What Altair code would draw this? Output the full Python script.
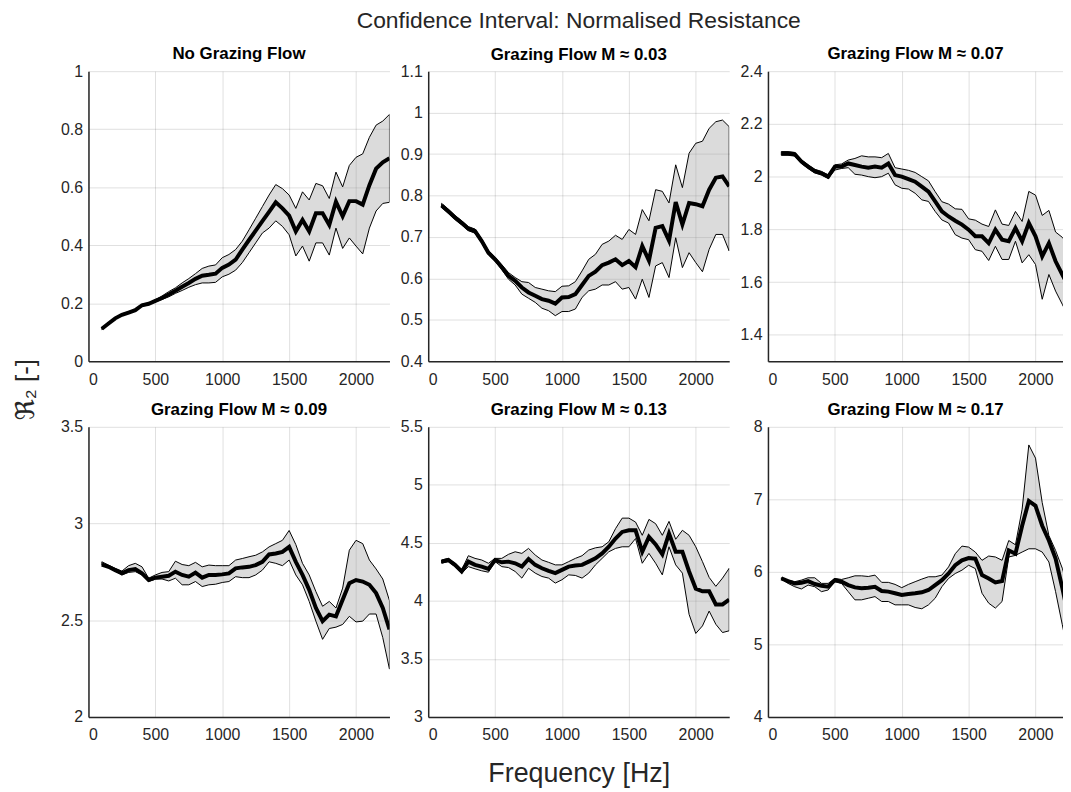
import altair as alt
import pandas as pd

FREQ = list(range(100, 2251, 50))

TITLES = [
    "No Grazing Flow",
    "Grazing Flow M \u2248 0.03",
    "Grazing Flow M \u2248 0.07",
    "Grazing Flow M \u2248 0.09",
    "Grazing Flow M \u2248 0.13",
    "Grazing Flow M \u2248 0.17",
]
SUPTITLE = "Confidence Interval: Normalised Resistance"
X_TITLE = "Frequency [Hz]"
Y_TITLE = "\u211c\u2082 [-]"

MEAN_1 = [0.112, 0.13, 0.148, 0.16, 0.168, 0.176, 0.193, 0.198, 0.208, 0.218, 0.23, 0.243, 0.257, 0.27, 0.284, 0.295, 0.298, 0.302, 0.322, 0.333, 0.35, 0.385, 0.418, 0.45, 0.483, 0.515, 0.548, 0.527, 0.502, 0.448, 0.487, 0.448, 0.51, 0.51, 0.47, 0.55, 0.5, 0.552, 0.552, 0.54, 0.607, 0.664, 0.686, 0.70]
UPPER_1 = [0.115, 0.133, 0.151, 0.163, 0.171, 0.179, 0.196, 0.201, 0.212, 0.225, 0.24, 0.253, 0.27, 0.285, 0.302, 0.32, 0.328, 0.332, 0.357, 0.368, 0.385, 0.414, 0.453, 0.493, 0.533, 0.573, 0.609, 0.595, 0.573, 0.527, 0.584, 0.556, 0.613, 0.605, 0.561, 0.652, 0.601, 0.675, 0.703, 0.715, 0.772, 0.814, 0.828, 0.851]
LOWER_1 = [0.109, 0.127, 0.145, 0.157, 0.165, 0.173, 0.19, 0.195, 0.205, 0.213, 0.222, 0.234, 0.244, 0.255, 0.264, 0.27, 0.27, 0.272, 0.291, 0.30, 0.314, 0.34, 0.374, 0.408, 0.442, 0.459, 0.484, 0.465, 0.436, 0.363, 0.397, 0.345, 0.408, 0.408, 0.366, 0.459, 0.389, 0.425, 0.397, 0.37, 0.459, 0.518, 0.544, 0.548]

MEAN_2 = [0.776, 0.762, 0.747, 0.734, 0.72, 0.714, 0.69, 0.662, 0.646, 0.627, 0.606, 0.594, 0.578, 0.566, 0.558, 0.55, 0.546, 0.539, 0.554, 0.555, 0.562, 0.584, 0.606, 0.616, 0.632, 0.638, 0.646, 0.632, 0.642, 0.627, 0.678, 0.643, 0.722, 0.726, 0.691, 0.784, 0.73, 0.782, 0.779, 0.774, 0.814, 0.843, 0.846, 0.822]
UPPER_2 = [0.781, 0.767, 0.752, 0.739, 0.725, 0.719, 0.695, 0.667, 0.651, 0.633, 0.614, 0.602, 0.592, 0.59, 0.578, 0.574, 0.57, 0.568, 0.581, 0.582, 0.592, 0.618, 0.646, 0.658, 0.682, 0.69, 0.704, 0.694, 0.718, 0.706, 0.766, 0.739, 0.814, 0.81, 0.782, 0.874, 0.819, 0.902, 0.926, 0.931, 0.962, 0.978, 0.982, 0.966]
LOWER_2 = [0.771, 0.757, 0.742, 0.729, 0.715, 0.709, 0.685, 0.657, 0.641, 0.621, 0.598, 0.584, 0.562, 0.552, 0.542, 0.528, 0.522, 0.51, 0.52, 0.52, 0.526, 0.554, 0.57, 0.574, 0.584, 0.584, 0.592, 0.574, 0.578, 0.55, 0.598, 0.554, 0.63, 0.638, 0.602, 0.698, 0.626, 0.662, 0.638, 0.616, 0.67, 0.706, 0.706, 0.666]

MEAN_3 = [2.088, 2.088, 2.085, 2.057, 2.038, 2.021, 2.013, 2.0, 2.038, 2.038, 2.05, 2.044, 2.038, 2.034, 2.038, 2.034, 2.05, 2.006, 2.0, 1.991, 1.981, 1.962, 1.943, 1.906, 1.868, 1.849, 1.833, 1.818, 1.799, 1.774, 1.774, 1.748, 1.799, 1.761, 1.755, 1.805, 1.755, 1.824, 1.774, 1.698, 1.748, 1.679, 1.629, 1.58]
UPPER_3 = [2.095, 2.095, 2.092, 2.064, 2.045, 2.028, 2.02, 2.007, 2.045, 2.048, 2.063, 2.069, 2.079, 2.075, 2.075, 2.072, 2.088, 2.034, 2.029, 2.024, 2.016, 2.0, 1.984, 1.943, 1.905, 1.896, 1.878, 1.876, 1.84, 1.835, 1.82, 1.811, 1.874, 1.82, 1.815, 1.868, 1.83, 1.944, 1.93, 1.853, 1.872, 1.79, 1.77, 1.74]
LOWER_3 = [2.081, 2.081, 2.078, 2.05, 2.031, 2.014, 2.006, 1.993, 2.025, 2.031, 2.034, 2.009, 2.006, 2.0, 1.996, 2.0, 2.013, 1.969, 1.956, 1.953, 1.937, 1.912, 1.906, 1.868, 1.836, 1.824, 1.78, 1.767, 1.761, 1.723, 1.717, 1.682, 1.736, 1.686, 1.686, 1.755, 1.673, 1.704, 1.667, 1.535, 1.629, 1.566, 1.516, 1.465]

MEAN_4 = [2.788, 2.776, 2.759, 2.742, 2.759, 2.764, 2.742, 2.708, 2.72, 2.725, 2.73, 2.751, 2.734, 2.725, 2.746, 2.72, 2.734, 2.734, 2.737, 2.742, 2.768, 2.773, 2.776, 2.785, 2.802, 2.84, 2.845, 2.853, 2.879, 2.802, 2.734, 2.657, 2.563, 2.495, 2.529, 2.52, 2.606, 2.691, 2.708, 2.7, 2.683, 2.64, 2.563, 2.452]
UPPER_4 = [2.802, 2.785, 2.768, 2.754, 2.782, 2.794, 2.776, 2.717, 2.734, 2.747, 2.751, 2.805, 2.788, 2.782, 2.799, 2.776, 2.785, 2.782, 2.782, 2.782, 2.811, 2.819, 2.828, 2.836, 2.853, 2.879, 2.896, 2.913, 2.964, 2.891, 2.794, 2.734, 2.648, 2.572, 2.597, 2.563, 2.666, 2.862, 2.913, 2.896, 2.811, 2.765, 2.713, 2.601]
LOWER_4 = [2.785, 2.771, 2.754, 2.734, 2.747, 2.751, 2.734, 2.7, 2.712, 2.713, 2.703, 2.717, 2.683, 2.683, 2.7, 2.674, 2.683, 2.686, 2.695, 2.7, 2.725, 2.72, 2.72, 2.734, 2.759, 2.802, 2.794, 2.782, 2.811, 2.734, 2.683, 2.597, 2.495, 2.401, 2.457, 2.464, 2.478, 2.52, 2.491, 2.495, 2.532, 2.532, 2.41, 2.247]

MEAN_5 = [4.338, 4.352, 4.31, 4.253, 4.338, 4.31, 4.295, 4.276, 4.352, 4.332, 4.338, 4.324, 4.295, 4.361, 4.31, 4.281, 4.259, 4.239, 4.267, 4.295, 4.304, 4.31, 4.338, 4.366, 4.409, 4.466, 4.537, 4.594, 4.608, 4.608, 4.423, 4.551, 4.486, 4.401, 4.58, 4.423, 4.423, 4.253, 4.105, 4.082, 4.082, 3.969, 3.969, 4.011]
UPPER_5 = [4.352, 4.366, 4.324, 4.267, 4.389, 4.366, 4.352, 4.324, 4.366, 4.366, 4.401, 4.423, 4.409, 4.452, 4.395, 4.352, 4.332, 4.31, 4.31, 4.338, 4.366, 4.389, 4.438, 4.457, 4.466, 4.509, 4.622, 4.713, 4.713, 4.679, 4.565, 4.702, 4.665, 4.565, 4.685, 4.531, 4.608, 4.565, 4.466, 4.338, 4.202, 4.125, 4.196, 4.281]
LOWER_5 = [4.324, 4.338, 4.295, 4.239, 4.295, 4.276, 4.259, 4.247, 4.338, 4.295, 4.287, 4.253, 4.196, 4.281, 4.239, 4.21, 4.196, 4.153, 4.182, 4.224, 4.219, 4.196, 4.239, 4.31, 4.366, 4.423, 4.452, 4.466, 4.466, 4.537, 4.324, 4.409, 4.324, 4.224, 4.466, 4.31, 4.239, 3.884, 3.719, 3.784, 3.912, 3.798, 3.727, 3.742]

MEAN_6 = [5.909, 5.873, 5.841, 5.85, 5.873, 5.832, 5.809, 5.795, 5.886, 5.864, 5.818, 5.786, 5.773, 5.782, 5.795, 5.736, 5.727, 5.705, 5.682, 5.695, 5.705, 5.718, 5.75, 5.818, 5.886, 5.977, 6.091, 6.159, 6.191, 6.182, 5.955, 5.909, 5.855, 5.873, 6.295, 6.25, 6.636, 6.977, 6.91, 6.636, 6.432, 6.182, 5.78, 5.35]
UPPER_6 = [5.918, 5.886, 5.864, 5.886, 5.918, 5.918, 5.841, 5.841, 5.909, 5.895, 5.918, 5.945, 5.945, 5.936, 5.955, 5.855, 5.855, 5.827, 5.782, 5.827, 5.864, 5.9, 5.932, 5.932, 5.955, 6.068, 6.25, 6.355, 6.341, 6.273, 6.159, 6.218, 6.205, 6.159, 6.432, 6.373, 6.864, 7.75, 7.568, 6.955, 6.5, 6.295, 6.05, 5.75]
LOWER_6 = [5.9, 5.841, 5.795, 5.764, 5.818, 5.795, 5.727, 5.75, 5.864, 5.841, 5.727, 5.614, 5.614, 5.636, 5.659, 5.591, 5.591, 5.545, 5.545, 5.545, 5.509, 5.491, 5.545, 5.636, 5.795, 5.909, 5.977, 6.023, 6.091, 6.045, 5.705, 5.568, 5.5, 5.591, 6.205, 6.227, 6.273, 6.318, 6.318, 6.273, 6.136, 5.727, 5.273, 4.82]

MEANS = [MEAN_1, MEAN_2, MEAN_3, MEAN_4, MEAN_5, MEAN_6]
UPPERS = [UPPER_1, UPPER_2, UPPER_3, UPPER_4, UPPER_5, UPPER_6]
LOWERS = [LOWER_1, LOWER_2, LOWER_3, LOWER_4, LOWER_5, LOWER_6]

Y_DOMAINS = [[0, 1], [0.4, 1.1], [1.3, 2.4], [2, 3.5], [3, 5.5], [4, 8]]
Y_TICKS = [
    [0, 0.2, 0.4, 0.6, 0.8, 1],
    [0.4, 0.5, 0.6, 0.7, 0.8, 0.9, 1.0, 1.1],
    [1.4, 1.6, 1.8, 2.0, 2.2, 2.4],
    [2, 2.5, 3, 3.5],
    [3, 3.5, 4, 4.5, 5, 5.5],
    [4, 5, 6, 7, 8],
]
X_TICKS = [0, 500, 1000, 1500, 2000]

FONT = "Liberation Sans, Arial, DejaVu Sans, sans-serif"
INK = "#262626"
PX_PER_HZ = 303 / 2250
PANEL_H = 292
ROW_GAP = 66


def panel(i):
    col = i % 3
    width = 303 if col < 2 else 297
    xmax = 2250 if col < 2 else width / PX_PER_HZ
    df = pd.DataFrame({"f": FREQ, "m": MEANS[i], "lo": LOWERS[i], "hi": UPPERS[i]})

    xaxis_kw = dict(values=X_TICKS, format="d")
    if i == 4:
        xaxis_kw.update(title=X_TITLE, titleFontSize=27, titleFontWeight="normal",
                        titleColor=INK, titleFont=FONT, titlePadding=18)
    else:
        xaxis_kw.update(title=None)
    yaxis_kw = dict(values=Y_TICKS[i], format="~g")
    if i == 0:
        yaxis_kw.update(title=Y_TITLE, titleFontSize=26, titleFontWeight="normal",
                        titleColor=INK, titleFont=FONT, titleAngle=270,
                        titleX=-50, titleY=PANEL_H + 28, titleAlign="center",
                        titleBaseline="bottom")
    else:
        yaxis_kw.update(title=None)

    xs = alt.Scale(domain=[0, xmax], nice=False, zero=False)
    ys = alt.Scale(domain=Y_DOMAINS[i], nice=False, zero=False)
    x = alt.X("f:Q", scale=xs, axis=alt.Axis(**xaxis_kw))

    band = alt.Chart(df).mark_area(
        fill="#9a9a9a", fillOpacity=0.36, stroke="black", strokeWidth=1, clip=True
    ).encode(
        x=x,
        y=alt.Y("lo:Q", scale=ys, axis=alt.Axis(**yaxis_kw)),
        y2="hi:Q",
    )
    mean = alt.Chart(df).mark_line(color="black", strokeWidth=4, clip=True).encode(
        x=x,
        y=alt.Y("m:Q", scale=ys, axis=alt.Axis(**yaxis_kw)),
    )
    if i == 1:
        title = alt.TitleParams(
            text=SUPTITLE, subtitle=TITLES[i], fontSize=23, fontWeight="normal",
            color=INK, font=FONT, subtitleFont=FONT, subtitleFontSize=17,
            subtitleFontWeight="bold", subtitleColor="black", subtitlePadding=14,
            offset=0, anchor="middle", frame="group",
        )
    else:
        title = alt.TitleParams(text=TITLES[i], offset=0, anchor="middle", frame="group")
    return alt.layer(band, mean).properties(width=width, height=PANEL_H, title=title)


chart = alt.concat(
    *[panel(i) for i in range(6)],
    columns=3,
    spacing={"row": ROW_GAP, "column": 39},
    bounds="flush",
).properties(
    padding={"left": 5, "top": 0, "right": 0, "bottom": 0}
).configure_view(
    strokeWidth=0
).configure_axis(
    labelFont=FONT, labelFontSize=16, labelColor=INK,
    domainColor=INK, domainWidth=1.5,
    gridColor=INK, gridOpacity=0.15, gridWidth=1,
    ticks=False, tickSize=0,
).configure_axisX(
    labelPadding=10
).configure_axisY(
    labelPadding=6
).configure_title(
    font=FONT, fontSize=17, fontWeight="bold", color="black"
)

chart.save("out.html", embed_options={"renderer": "svg", "actions": False})
